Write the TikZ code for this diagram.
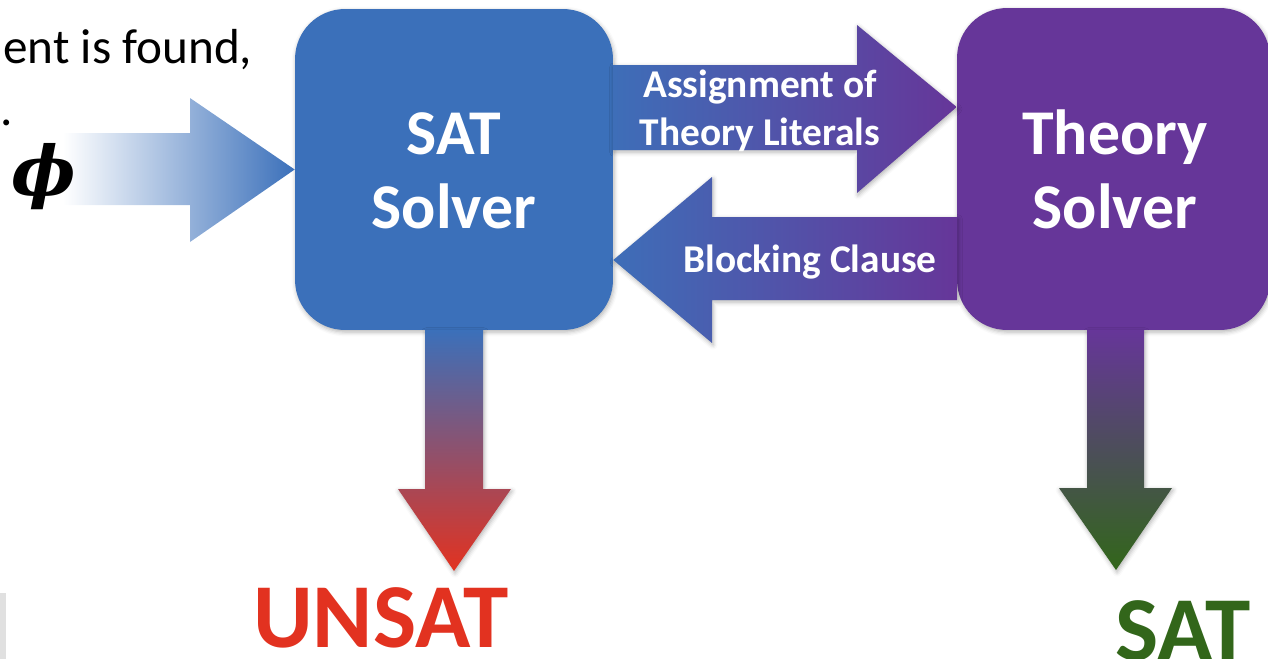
\documentclass[tikz,border=0pt]{standalone}
\usepackage{fontspec}
\setmainfont{Carlito}
\newfontfamily\phifont{DejaVu Serif}
\usetikzlibrary{shadows.blur}
\definecolor{satblue}{RGB}{59,112,186}
\definecolor{thpurple}{RGB}{102,54,153}
\definecolor{unsatred}{RGB}{226,50,32}
\definecolor{satgreen}{RGB}{50,102,26}
\definecolor{midblue}{RGB}{62,110,184}
\definecolor{redmid}{RGB}{112,58,100}
\definecolor{greenmid}{RGB}{60,72,80}
\definecolor{sliver}{RGB}{224,224,224}
\begin{document}
\begin{tikzpicture}[x=0.02cm,y=-0.02cm,
  boxtext/.style={text=white,font=\fontsize{36.3}{42}\selectfont\bfseries,anchor=base,inner sep=0},
  arrtext/.style={text=white,font=\fontsize{22.4}{27}\selectfont\bfseries,anchor=base,inner sep=0},
  restext/.style={font=\fontsize{52}{60}\selectfont\bfseries,anchor=base,inner sep=0},
  cornertext/.style={font=\fontsize{28}{34}\selectfont,anchor=base west,inner sep=0},
  shad/.style={blur shadow={shadow xshift=0.6pt,shadow yshift=-1.2pt,shadow blur radius=2.5pt,shadow opacity=30}},
  solverbox/.style={rounded corners=1cm,inner sep=0,shad}]
\useasboundingbox (0,0) rectangle (1268,659);
% grey sliver at the lower left
\fill[sliver] (0,593) rectangle (6,659);
% clipped text at the upper left
\node[cornertext] (line1) at (3,63) {ent is found,};
\node[cornertext] (line2) at (0,125) {.};
% solver boxes
\node[solverbox,fill=satblue,minimum width=6.36cm,minimum height=6.42cm] (sat) at (454,169.5) {};
\node[solverbox,fill=thpurple,minimum width=6.26cm,minimum height=6.44cm] (theory) at (1113.5,169) {};
% input arrow
\shade[left color=white,right color=satblue]
  (63,133) -- (190,133) -- (190,98) -- (sat.west) -- (190,242) -- (190,205) -- (63,205) -- cycle;
\node[inner sep=0,font=\phifont\bfseries\itshape\fontsize{39}{45}\selectfont] (phi) at (44,176.5) {ϕ};
% assignment arrow
\shade[left color=midblue,right color=thpurple,shad]
  (613,65) -- (857,65) -- (857,25) -- (theory.west |- 0,107) -- (857,193) -- (857,150) -- (613,150) -- cycle;
% blocking clause arrow
\shade[left color=midblue,right color=thpurple,shad]
  (957,217) -- (712,217) -- (712,177) -- (sat.east |- 0,260) -- (712,343) -- (712,300) -- (957,300) -- cycle;
% UNSAT arrow
\shade[top color=satblue,middle color=redmid,bottom color=unsatred,shad]
  (425,330) -- (425,489) -- (398,489) -- (454,571) -- (511,489) -- (483,489) -- (483,330) -- cycle;
% SAT arrow
\shade[top color=thpurple,middle color=greenmid,bottom color=satgreen,shad]
  (1087,330) -- (1087,488) -- (1059,488) -- (1116,570) -- (1172,488) -- (1144,488) -- (1144,330) -- cycle;
% box texts
\node[boxtext] (satA) at (454,154) {SAT};
\node[boxtext] (satB) at (454,228) {Solver};
\node[boxtext] (thA) at (1115,154) {Theory};
\node[boxtext] (thB) at (1115,228) {Solver};
% arrow texts
\node[arrtext] (asgA) at (760,97) {Assignment of};
\node[arrtext] (asgB) at (760,145) {Theory Literals};
\node[arrtext] (blk) at (810,272) {Blocking Clause};
% results
\node[restext,text=unsatred] (unsat) at (381,647) {UNSAT};
\node[restext,text=satgreen] (satres) at (1183,660) {SAT};
\end{tikzpicture}
\end{document}
